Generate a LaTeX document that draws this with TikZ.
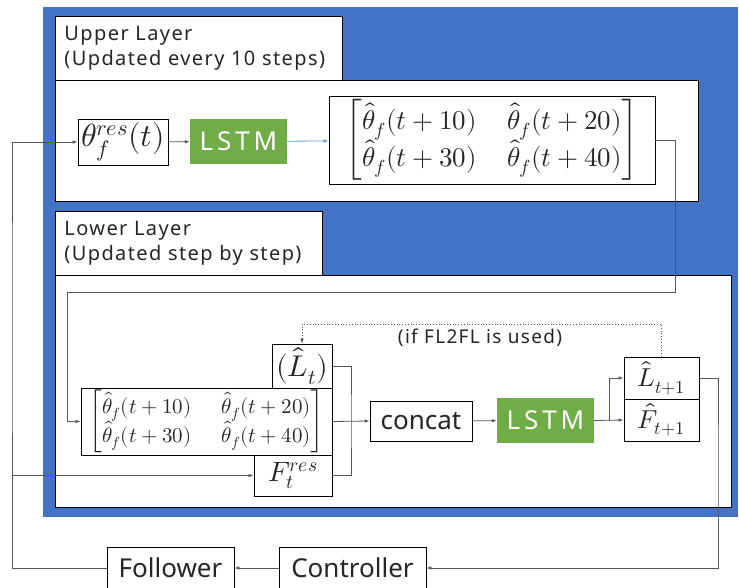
\documentclass[tikz,border=0pt]{standalone}
\usepackage{amsmath}
\usepackage{fontspec}
\usepackage{unicode-math}
\setmainfont{Noto Sans}
\setmathfont{Latin Modern Math}
\newfontfamily\lsfont[LetterSpace=7]{Noto Sans}
\newfontfamily\wsfont[LetterSpace=15]{Noto Sans}
\usetikzlibrary{arrows.meta}
\definecolor{bgblue}{HTML}{4472C4}
\definecolor{lgreen}{HTML}{70AD47}
\definecolor{lblue}{HTML}{5B9BD5}
\definecolor{txt}{HTML}{262626}
\definecolor{ln}{HTML}{555555}
\newcommand{\thmat}{\begin{bmatrix}\hat{\theta}_f(t+10) & \hspace{20pt}\hat{\theta}_f(t+20)\\ \hat{\theta}_f(t+30) & \hspace{20pt}\hat{\theta}_f(t+40)\end{bmatrix}}
\begin{document}
\begin{tikzpicture}[x=1pt,y=-1pt,
  box/.style={draw=black,line width=0.8pt,fill=white,inner sep=0pt,text=txt},
  gbox/.style={fill=lgreen,inner sep=0pt,text=white,font=\wsfont\fontsize{26}{30}\selectfont},
  lbl/.style={box,anchor=north west,align=left,inner xsep=9pt,font=\lsfont\fontsize{20}{25}\selectfont},
  big/.style={font=\fontsize{26}{30}\selectfont},
  arr/.style={draw=ln,line width=0.8pt,-{Latex[length=5pt,width=3.5pt]}},
  con/.style={draw=ln,line width=0.8pt}]
\useasboundingbox (0,0) rectangle (739,588);
\clip (0,0) rectangle (739,588);
\fill[bgblue] (43,7) rectangle (738,517);
% layer boxes
\node[lbl,minimum width=287pt,minimum height=64pt,text width=269pt] (uplbl) at (55,16) {Upper Layer\\(Updated every 10 steps)};
\node[box,anchor=north west,minimum width=643pt,minimum height=121pt] (upbox) at (55,80) {};
\node[lbl,minimum width=267pt,minimum height=64pt,text width=249pt] (lowlbl) at (55,211) {Lower Layer\\(Updated step by step)};
\node[box,anchor=north west,minimum width=676pt,minimum height=232pt] (lowbox) at (55,275) {};
% upper layer
\node[box,minimum width=90pt,minimum height=46pt,font=\fontsize{32}{36}\selectfont] (theta) at (123,142) {$\theta_f^{res}(t)$};
\node[gbox,minimum width=97pt,minimum height=45pt] (lstma) at (238.5,141.5) {LSTM};
\node[box,minimum width=326pt,minimum height=88pt,font=\fontsize{27}{32}\selectfont] (mata) at (492,140) {$\thmat$};
% lower layer
\node[box,minimum width=251pt,minimum height=67pt,font=\fontsize{21}{25}\selectfont] (matb) at (206.5,421.5) {$\thmat$};
\node[box,minimum width=60pt,minimum height=44pt,font=\fontsize{30}{34}\selectfont] (Lt) at (302,366) {$(\hat{L}_t)$};
\node[box,minimum width=78pt,minimum height=41pt,font=\fontsize{28}{32}\selectfont] (Fres) at (293,475.5) {$F_t^{res}$};
\node[box,big,minimum width=102pt,minimum height=40pt] (concat) at (421,421) {concat};
\node[gbox,minimum width=97pt,minimum height=45pt] (lstmb) at (545.5,420.5) {LSTM};
\node[box,minimum width=75pt,minimum height=42pt,font=\fontsize{26}{30}\selectfont] (Lnext) at (661.5,378) {$\hat{L}_{t+1}$};
\node[box,minimum width=75pt,minimum height=42pt,font=\fontsize{26}{30}\selectfont] (Fnext) at (661.5,420) {$\hat{F}_{t+1}$};
\node[text=txt,font=\lsfont\fontsize{19}{22}\selectfont] (iflbl) at (480,338) {(if FL2FL is used)};
% bottom
\node[box,big,minimum width=147pt,minimum height=42pt] (ctrl) at (352.5,568) {Controller};
\node[box,big,minimum width=127pt,minimum height=42pt] (foll) at (170.5,568) {Follower};
% coordinates
\coordinate (c1) at (675,292);
\coordinate (c2) at (67,292);
\coordinate (cj) at (351,421);
\coordinate (br) at (609,421);
\coordinate (d1) at (302,324);
\coordinate (c3) at (718,470);
\coordinate (c4) at (12,300);
\coordinate (c5) at (12,475.5);
% connectors
\draw[arr] (theta) -- (lstma);
\draw[arr,draw=lblue] (lstma) -- (mata);
\draw[arr] (mata.east) -| (c1) -- (c2) |- (matb.west);
\draw[con] (Lt.east) -| (cj) |- (Fres.east);
\draw[arr] (matb.east) -- (concat.west);
\draw[arr] (concat) -- (lstmb);
\draw[arr] (lstmb.east) -- (Fnext.west);
\draw[arr] (br) |- (Lnext.west);
\draw[arr,dotted,line width=0.6pt] (Lnext.north) |- (d1) -- (Lt.north);
\draw[arr] (Lnext.east) -| (c3) |- (ctrl.east);
\draw[arr] (ctrl.west) -- (foll.east);
\draw[arr] (foll.west) -| (c4) |- (theta.west);
\draw[arr] (c5) -- (Fres.west);
\end{tikzpicture}
\end{document}
